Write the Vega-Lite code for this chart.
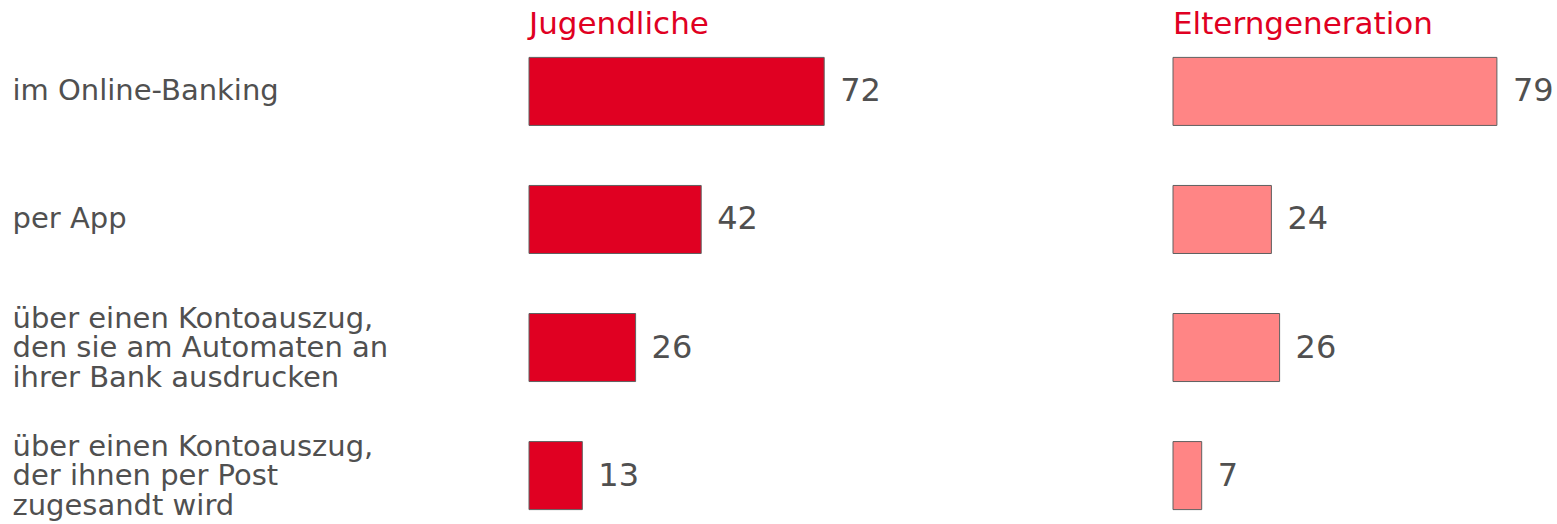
{
  "$schema": "https://vega.github.io/schema/vega-lite/v6.json",
  "padding": {"left": 12, "top": 9, "right": 0, "bottom": 0},
  "background": "white",
  "data": {"values": [
    {"cat": "im Online-Banking", "jugend": 72, "eltern": 79},
    {"cat": "per App", "jugend": 42, "eltern": 24},
    {"cat": "über einen Kontoauszug,|den sie am Automaten an|ihrer Bank ausdrucken", "jugend": 26, "eltern": 26},
    {"cat": "über einen Kontoauszug,|der ihnen per Post|zugesandt wird", "jugend": 13, "eltern": 7}
  ]},
  "config": {"view": {"stroke": null}, "font": "DejaVu Sans"},
  "spacing": 233,
  "hconcat": [
    {
      "width": 410,
      "height": 465,
      "title": {"text": "Jugendliche", "anchor": "start", "frame": "group", "color": "#E00022", "fontSize": 31, "fontWeight": "normal", "font": "DejaVu Sans", "offset": 10},
      "encoding": {
        "y": {"field": "cat", "type": "nominal", "sort": null,
          "scale": {"paddingInner": 0.46875, "paddingOuter": 0.05},
          "axis": {"title": null, "domain": false, "ticks": false, "labelAlign": "left", "labelBaseline": "middle", "labelPadding": 517,
            "labelOffset": {"condition": {"test": "indexof(datum.label, '|') >= 0", "value": -29}, "value": 0},
            "labelExpr": "split(datum.label, '|')", "labelFontSize": 29, "labelColor": "#505050", "labelLineHeight": 29.5, "labelLimit": 0, "labelFont": "DejaVu Sans"}}
      },
      "layer": [
        {"mark": {"type": "bar", "color": "#E00022", "stroke": "#606060", "strokeWidth": 1},
         "encoding": {"x": {"field": "jugend", "type": "quantitative", "scale": {"domain": [0, 100]}, "axis": null}}},
        {"mark": {"type": "text", "align": "left", "baseline": "middle", "dx": 16, "fontSize": 32, "color": "#505050", "font": "DejaVu Sans"},
         "encoding": {"x": {"field": "jugend", "type": "quantitative"}, "text": {"field": "jugend", "type": "quantitative"}}}
      ]
    },
    {
      "width": 369,
      "height": 465,
      "title": {"text": "Elterngeneration", "anchor": "start", "frame": "group", "color": "#E00022", "fontSize": 31, "fontWeight": "normal", "font": "DejaVu Sans", "offset": 10},
      "encoding": {
        "y": {"field": "cat", "type": "nominal", "sort": null,
          "scale": {"paddingInner": 0.46875, "paddingOuter": 0.05},
          "axis": null}
      },
      "layer": [
        {"mark": {"type": "bar", "color": "#FF8585", "stroke": "#606060", "strokeWidth": 1},
         "encoding": {"x": {"field": "eltern", "type": "quantitative", "scale": {"domain": [0, 90]}, "axis": null}}},
        {"mark": {"type": "text", "align": "left", "baseline": "middle", "dx": 16, "fontSize": 32, "color": "#505050", "font": "DejaVu Sans"},
         "encoding": {"x": {"field": "eltern", "type": "quantitative"}, "text": {"field": "eltern", "type": "quantitative"}}}
      ]
    }
  ]
}
